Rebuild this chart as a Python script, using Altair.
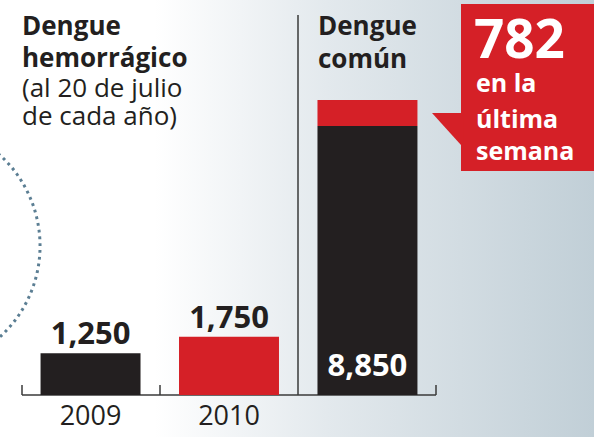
import math
import altair as alt
import pandas as pd

# ---------------- data ----------------
categories = ["2009", "2010", "común"]
values = [1250, 1750, 8850]
bar_colors = ["#231f20", "#d52027", "#231f20"]
value_labels = ["1,250", "1,750", "8,850"]
year_labels = ["2009", "2010", ""]
ultima_semana = 782
ultima_label = "782"

BLACK = "#231f20"
RED = "#d52027"
FONT = "Open Sans"

# segments (común split: black base + red top of last week)
seg_cat, seg_lo, seg_hi, seg_col = [], [], [], []
for c, v, col in zip(categories, values, bar_colors):
    if c == "común":
        seg_cat += [c, c]
        seg_lo += [0, v - ultima_semana]
        seg_hi += [v - ultima_semana, v]
        seg_col += [BLACK, RED]
    else:
        seg_cat.append(c)
        seg_lo.append(0)
        seg_hi.append(v)
        seg_col.append(col)
bars_df = pd.DataFrame({"cat": seg_cat, "lo": seg_lo, "hi": seg_hi, "col": seg_col})
lab_df = pd.DataFrame({"cat": categories, "value": values, "label": value_labels,
                       "year": year_labels})

W, H = 594, 437
xscale = alt.Scale(domain=categories, range=[22, 436], paddingInner=0.278, paddingOuter=0.134)
yscale = alt.Scale(domain=[0, 11850], range=[395, 0], nice=False, zero=True)
X = alt.X("cat:N", scale=xscale, axis=None)
one = alt.Data(values=[{}])

# ---------------- background ----------------
bg = alt.Chart(one).mark_rect(
    fill=alt.Gradient(
        gradient="linear", x1=0, x2=1, y1=0, y2=0,
        stops=[alt.GradientStop(color="#ffffff", offset=0),
               alt.GradientStop(color="#ffffff", offset=0.26),
               alt.GradientStop(color="#e3e9ed", offset=0.55),
               alt.GradientStop(color="#c1cfd7", offset=1)])
).encode(x=alt.value(0), x2=alt.value(W), y=alt.value(0), y2=alt.value(H))

arc = alt.Chart(one).mark_arc(
    theta=0, theta2=math.pi, radius=123, fillOpacity=0,
    stroke="#5b7e93", strokeWidth=3, strokeDash=[2.8, 4]
).encode(x=alt.value(-83), y=alt.value(246))

# ---------------- axis-like rules ----------------
sep = alt.Chart(one).mark_rule(color="#3a3a3a", strokeWidth=1.5).encode(
    x=alt.value(298), y=alt.value(15), y2=alt.value(395))
base = alt.Chart(one).mark_rule(color="#3a3a3a", strokeWidth=1.5).encode(
    x=alt.value(22), x2=alt.value(436), y=alt.value(395))
ticks = alt.layer(*[
    alt.Chart(one).mark_rule(color="#3a3a3a", strokeWidth=1.5).encode(
        x=alt.value(tx), y=alt.value(385), y2=alt.value(395))
    for tx in (22, 160, 436)
])

# ---------------- bars ----------------
bars = alt.Chart(bars_df).mark_bar().encode(
    x=X,
    y=alt.Y("lo:Q", scale=yscale, axis=None),
    y2="hi:Q",
    color=alt.Color("col:N", scale=None),
)

top_labels = alt.Chart(lab_df).transform_filter("datum.cat != 'común'").mark_text(
    font=FONT, fontSize=31, fontWeight="bold", color=BLACK, baseline="alphabetic", dy=-9
).encode(x=X, y=alt.Y("value:Q", scale=yscale), text="label:N")

inner_label = alt.Chart(lab_df).transform_filter("datum.cat == 'común'").mark_text(
    font=FONT, fontSize=31, fontWeight="bold", color="white", baseline="alphabetic", dy=-19
).encode(x=X, y=alt.Y("zero:Q", scale=yscale), text="label:N").transform_calculate(zero="0")

years = alt.Chart(lab_df).transform_filter("datum.cat != 'común'").mark_text(
    font=FONT, fontSize=27, color=BLACK, baseline="alphabetic", dy=30
).encode(x=X, y=alt.Y("zero:Q", scale=yscale), text="year:N").transform_calculate(zero="0")

# ---------------- titles ----------------
def txt(s, x, y, size, bold=False, color=BLACK):
    return alt.Chart(one).mark_text(
        text=s, font=FONT, fontSize=size, fontWeight="bold" if bold else "normal",
        color=color, align="left", baseline="alphabetic"
    ).encode(x=alt.value(x), y=alt.value(y))

titles = [
    txt("Dengue", 22, 35, 26, True),
    txt("hemorrágico", 22, 67, 26, True),
    txt("(al 20 de julio", 22, 97, 26),
    txt("de cada año)", 22, 125, 26),
    txt("Dengue", 318, 35, 26, True),
    txt("común", 318, 68, 26, True),
]

# ---------------- callout ----------------
box = alt.Chart(one).mark_rect(color=RED).encode(
    x=alt.value(461), x2=alt.value(W), y=alt.value(4), y2=alt.value(171))
pointer = alt.Chart(one).mark_point(
    shape="M-0.906,-1 L1.05,-1 L1.05,1.05 L0.906,1 Z", filled=True, fill=RED,
    opacity=1, size=1024, strokeWidth=0
).encode(x=alt.value(446.5), y=alt.value(129))
callout_txt = [
    txt(ultima_label, 474, 58, 53, True, "white"),
    txt("en la", 476, 92, 25, True, "white"),
    txt("última", 476, 128, 25, True, "white"),
    txt("semana", 476, 160, 25, True, "white"),
]

chart = alt.layer(
    bg, arc, sep, base, ticks, bars, top_labels, inner_label, years,
    *titles, box, pointer, *callout_txt
).properties(
    width=W, height=H, padding=0, autosize=alt.AutoSizeParams(type="none")
).configure_view(stroke=None)

chart.save("out.html", embed_options={"renderer": "svg", "actions": False})
